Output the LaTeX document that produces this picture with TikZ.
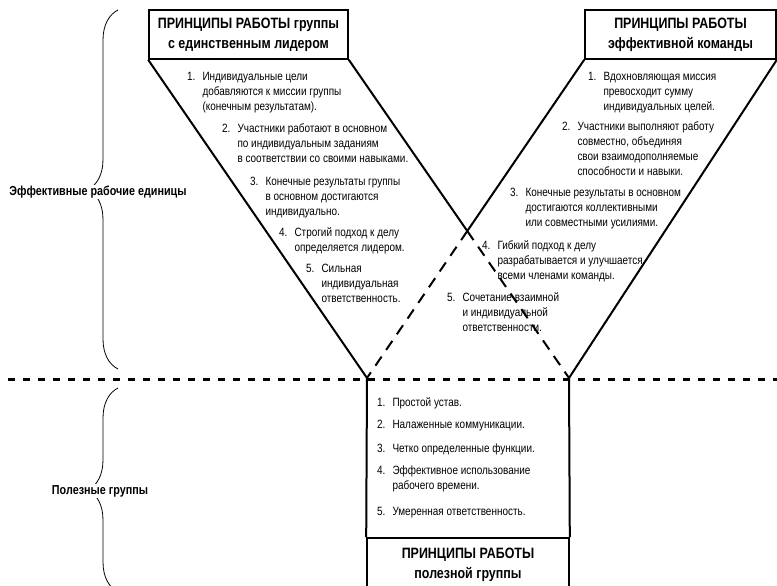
\documentclass[tikz,border=0pt]{standalone}
\usepackage{fontspec}
\setmainfont{Liberation Sans}[FakeStretch=0.83]
\usetikzlibrary{decorations.pathreplacing}
\newcommand{\pitem}[2]{\begin{tabular}[t]{@{}l@{\hspace{7pt}}l@{}}#1&\begin{tabular}[t]{@{}l@{}}#2\end{tabular}\end{tabular}}
\tikzset{
    headbox/.style={draw, line width=1.6pt, align=center, inner sep=0pt, font=\fontsize{15}{20}\selectfont\bfseries},
    itemtext/.style={anchor=base west, inner sep=0pt, font=\fontsize{12}{15}\selectfont},
    sidelabel/.style={fill=white, inner sep=1pt, font=\fontsize{13}{15}\selectfont\bfseries},
    wall/.style={line width=2pt},
    dashwall/.style={line width=2pt, dash pattern=on 11pt off 8pt},
    divider/.style={line width=3pt, dash pattern=on 7pt off 8pt},
    bracket/.style={decorate, decoration={brace, amplitude=30pt}, line width=0.8pt}
}

\begin{document}
\begin{tikzpicture}[x=1pt, y=-1pt]
    \useasboundingbox (0,0) rectangle (777,586);
    \clip (0,0) rectangle (777,586);

    \node[headbox, minimum width=199pt, minimum height=49pt] (lbox) at (248.5,34.5) {ПРИНЦИПЫ РАБОТЫ группы\\с единственным лидером};
    \node[headbox, minimum width=191pt, minimum height=49pt] (rbox) at (680.5,34.5) {ПРИНЦИПЫ РАБОТЫ\\эффективной команды};
    \node[headbox, minimum width=202pt, minimum height=54pt] (bbox) at (468,565) {ПРИНЦИПЫ РАБОТЫ\\полезной группы};

    \coordinate (bl) at (367,378);
    \coordinate (br) at (569,378);
    \coordinate (cross) at (intersection of lbox.south east--br and rbox.south west--bl);
    \coordinate (sepL) at (8,379);
    \coordinate (sepR) at (777,379);

    \draw[wall] (lbox.south west) -- (bl);
    \draw[wall] (lbox.south east) -- (cross);
    \draw[dashwall] (cross) -- (br);
    \draw[wall] (rbox.south east) -- (br);
    \draw[wall] (rbox.south west) -- (cross);
    \draw[dashwall] (cross) -- (bl);
    \draw[wall] (bl) -- (bbox.north west);
    \draw[wall] (br) -- (bbox.north east);

    \node[itemtext] (l1) at (187,81) {\pitem{1.}{Индивидуальные цели\\добавляются к миссии группы\\(конечным результатам).}};
    \node[itemtext] (l2) at (222,132) {\pitem{2.}{Участники работают в основном\\по индивидуальным заданиям\\в соответствии со своими навыками.}};
    \node[itemtext] (l3) at (250,185) {\pitem{3.}{Конечные результаты группы\\в основном достигаются\\индивидуально.}};
    \node[itemtext] (l4) at (279,236) {\pitem{4.}{Строгий подход к делу\\определяется лидером.}};
    \node[itemtext] (l5) at (306,272) {\pitem{5.}{Сильная\\индивидуальная\\ответственность.}};

    \node[itemtext] (r1) at (588,81) {\pitem{1.}{Вдохновляющая миссия\\превосходит сумму\\индивидуальных целей.}};
    \node[itemtext] (r2) at (562,130) {\pitem{2.}{Участники выполняют работу\\совместно, объединяя\\свои взаимодополняемые\\способности и навыки.}};
    \node[itemtext] (r3) at (510,196) {\pitem{3.}{Конечные результаты в основном\\достигаются коллективными\\или совместными усилиями.}};
    \node[itemtext] (r4) at (482,249) {\pitem{4.}{Гибкий подход к делу\\разрабатывается и улучшается\\всеми членами команды.}};
    \node[itemtext] (r5) at (447,301) {\pitem{5.}{Сочетание взаимной\\и индивидуальной\\ответственности.}};

    \node[itemtext] (b1) at (377,406) {\pitem{1.}{Простой устав.}};
    \node[itemtext] (b2) at (377,428) {\pitem{2.}{Налаженные коммуникации.}};
    \node[itemtext] (b3) at (377,452) {\pitem{3.}{Четко определенные функции.}};
    \node[itemtext] (b4) at (377,474) {\pitem{4.}{Эффективное использование\\рабочего времени.}};
    \node[itemtext] (b5) at (377,515) {\pitem{5.}{Умеренная ответственность.}};

    \draw[divider] (sepL) -- (sepR);

    \coordinate (ub1) at (118,369);
    \coordinate (ub2) at (118,10);
    \coordinate (lb1) at (118,592);
    \coordinate (lb2) at (118,388);
    \draw[bracket] (ub1) -- (ub2);
    \draw[bracket] (lb1) -- (lb2);
    \node[sidelabel] (upper) at (98,192) {Эффективные рабочие единицы};
    \node[sidelabel] (lower) at (100,491) {Полезные группы};
\end{tikzpicture}
\end{document}
